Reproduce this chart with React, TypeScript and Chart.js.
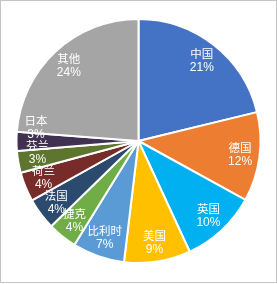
import React, { useEffect, useRef } from "react";
import { Chart, registerables } from "chart.js";

Chart.register(...registerables);

const categories = ["中国", "德国", "英国", "美国", "比利时", "捷克", "法国", "荷兰", "芬兰", "日本", "其他"];
const shares = [21.2, 11.8, 10.1, 8.8, 6.9, 3.9, 4.2, 3.9, 2.9, 2.5, 23.8];
const colors = [
  "#4472C4", "#ED7D31", "#00B0F0", "#FFC000", "#5B9BD5", "#70AD47",
  "#2C4A6E", "#772C2A", "#5E7530", "#403152", "#A5A5A5",
];

const labelPlugin = {
  id: "sliceLabels",
  afterDatasetsDraw(chart: any) {
    const ctx = chart.ctx;
    const meta = chart.getDatasetMeta(0);
    const data = chart.data.datasets[0].data as number[];
    const total = data.reduce((a, b) => a + b, 0);
    const pos = meta.data.map((arc: any, i: number) => {
      const p = arc.getProps(["x", "y", "startAngle", "endAngle", "outerRadius"], true);
      const mid = (p.startAngle + p.endAngle) / 2;
      const r = p.outerRadius * 0.84;
      return { i, cx: p.x, x: p.x + Math.cos(mid) * r, y: p.y + Math.sin(mid) * r };
    });
    // simple best-fit: push crowded left-side labels upward
    const left = pos.filter((q: any) => q.x < q.cx).sort((a: any, b: any) => b.y - a.y);
    for (let k = 1; k < left.length; k++) {
      const prev = left[k - 1];
      const cur = left[k];
      if (Math.abs(cur.x - prev.x) < 15 && prev.y - cur.y < 25) cur.y = prev.y - 25;
    }
    ctx.save();
    ctx.fillStyle = "#ffffff";
    ctx.textAlign = "center";
    ctx.textBaseline = "middle";
    pos.forEach((q: any) => {
      ctx.font = '11.5px "Noto Sans CJK SC", sans-serif';
      ctx.fillText(String(chart.data.labels[q.i]), q.x, q.y - 7);
      ctx.font = '12px "Liberation Sans Narrow", "Liberation Sans", sans-serif';
      ctx.fillText(Math.round((data[q.i] / total) * 100) + "%", q.x, q.y + 7);
    });
    ctx.restore();
  },
};

export default function App() {
  const ref = useRef<HTMLCanvasElement>(null);
  useEffect(() => {
    if (!ref.current) return;
    const chart = new Chart(ref.current, {
      type: "pie",
      data: {
        labels: categories,
        datasets: [
          {
            data: shares,
            backgroundColor: colors,
            borderColor: "#ffffff",
            borderWidth: 2,
          },
        ],
      },
      options: {
        responsive: false,
        animation: false,
        layout: { padding: { top: 18, bottom: 20, left: 0, right: 0 } },
        plugins: {
          legend: { display: false },
          tooltip: { enabled: false },
        },
      },
      plugins: [labelPlugin],
    });
    return () => chart.destroy();
  }, []);
  return (
    <div style={{ position: "fixed", left: 0, top: 0, width: 277, height: 284, background: "#fff" }}>
      <canvas ref={ref} width={277} height={284} style={{ position: "absolute", left: 0, top: 0 }} />
      <div
        style={{
          position: "absolute",
          left: 0,
          top: 0,
          width: 277,
          height: 283,
          boxSizing: "border-box",
          border: "1px solid #c4c4c4",
          pointerEvents: "none",
        }}
      />
    </div>
  );
}
